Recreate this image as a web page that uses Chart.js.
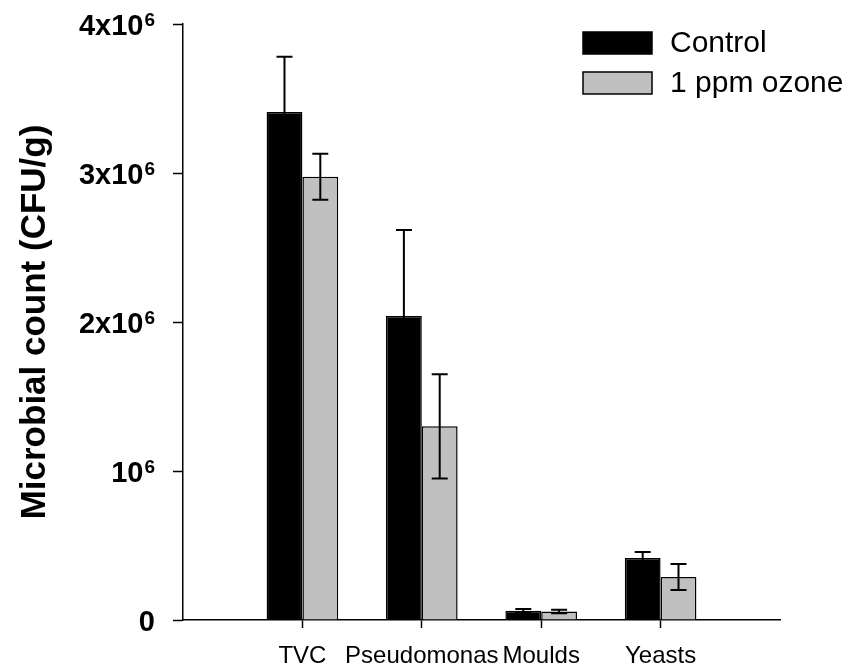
<!DOCTYPE html>
<html>
<head>
<meta charset="utf-8">
<script src="https://cdn.jsdelivr.net/npm/chart.js@4/dist/chart.umd.min.js"></script>
<style>
  html, body { margin: 0; padding: 0; background: #ffffff; }
  #wrap { width: 859px; height: 672px; }
</style>
</head>
<body>
<div id="wrap"><canvas id="c" width="859" height="672"></canvas></div>
<script>
// ---- data ----
const categories = ['TVC', 'Pseudomonas', 'Moulds', 'Yeasts'];
const seriesNames = ['Control', '1 ppm ozone'];
const controlValues = [3.41e6, 2.04e6, 0.062e6, 0.416e6];
const controlErrors = [0.37e6, 0.577e6, 0.012e6, 0.04e6];
const ozoneValues = [2.975e6, 1.30e6, 0.057e6, 0.289e6];
const ozoneErrors = [0.155e6, 0.35e6, 0.012e6, 0.087e6];
const yTickValues = [0, 1e6, 2e6, 3e6, 4e6];
// tick label = base text + superscript exponent
const yTickBases = ['0', '10', '2x10', '3x10', '4x10'];
const yTickExps = ['', '6', '6', '6', '6'];
const yTitle = 'Microbial count (CFU/g)';

const FONT = "'Liberation Sans', Arial, Helvetica, sans-serif";
const BLACK = '#000000';
const GREY = '#c0c0c0';

// pad categories with an empty slot on each side (axis runs one step beyond)
const pad = arr => [null, ...arr, null];
const labels = ['', ...categories, ''];
const errorsByDataset = [pad(controlErrors), pad(ozoneErrors)];

const errorBarPlugin = {
  id: 'errorBars',
  afterDatasetsDraw(chart) {
    const ctx = chart.ctx;
    const y = chart.scales.y;
    ctx.save();
    ctx.strokeStyle = BLACK;
    ctx.lineWidth = 2;
    chart.data.datasets.forEach((ds, di) => {
      const meta = chart.getDatasetMeta(di);
      meta.data.forEach((bar, i) => {
        const v = ds.data[i];
        const e = errorsByDataset[di][i];
        if (v == null || e == null) return;
        const x = bar.x;
        const yTop = y.getPixelForValue(v + e);
        const yBot = y.getPixelForValue(v - e);
        const cap = 8;
        ctx.beginPath();
        ctx.moveTo(x, yTop); ctx.lineTo(x, yBot);
        ctx.moveTo(x - cap, yTop); ctx.lineTo(x + cap, yTop);
        ctx.moveTo(x - cap, yBot); ctx.lineTo(x + cap, yBot);
        ctx.stroke();
      });
    });
    ctx.restore();
  }
};

// y tick labels with a real raised exponent
const yLabelPlugin = {
  id: 'yLabels',
  afterDraw(chart) {
    const ctx = chart.ctx;
    const y = chart.scales.y;
    const right = y.right - 10 - 18;
    ctx.save();
    ctx.fillStyle = BLACK;
    ctx.textAlign = 'right';
    ctx.textBaseline = 'alphabetic';
    yTickValues.forEach((v, i) => {
      const py = y.getPixelForValue(v);
      const base = yTickBases[i];
      const exp = yTickExps[i];
      const baseline = py + 11;
      let xEnd = right;
      if (exp) {
        ctx.font = 'bold 19px ' + FONT;
        ctx.fillText(exp, xEnd, baseline - 9);
        xEnd -= ctx.measureText(exp).width + 1;
      }
      ctx.font = 'bold 29px ' + FONT;
      ctx.fillText(base, xEnd, baseline);
    });
    ctx.restore();
  }
};

const legendPlugin = {
  id: 'boxLegend',
  afterDraw(chart) {
    const ctx = chart.ctx;
    ctx.save();
    const items = chart.data.datasets.map(ds => ({ text: ds.label, fill: ds.backgroundColor }));
    const x0 = 583, boxW = 69, boxH = 22, y0 = 32, gap = 40;
    ctx.font = '30px ' + FONT;
    ctx.textBaseline = 'middle';
    ctx.textAlign = 'left';
    items.forEach((it, k) => {
      const yy = y0 + k * gap;
      ctx.fillStyle = it.fill;
      ctx.fillRect(x0, yy, boxW, boxH);
      ctx.lineWidth = 1.5;
      ctx.strokeStyle = BLACK;
      ctx.strokeRect(x0, yy, boxW, boxH);
      ctx.fillStyle = BLACK;
      ctx.fillText(it.text, 670, yy + boxH / 2 + 1);
    });
    ctx.restore();
  }
};

const lastIdx = labels.length - 1;

new Chart(document.getElementById('c'), {
  type: 'bar',
  data: {
    labels: labels,
    datasets: [
      { label: seriesNames[0], data: pad(controlValues), backgroundColor: BLACK,
        borderColor: BLACK, borderWidth: 1.5, borderSkipped: 'start' },
      { label: seriesNames[1], data: pad(ozoneValues), backgroundColor: GREY,
        borderColor: BLACK, borderWidth: 1.5, borderSkipped: 'start' }
    ]
  },
  options: {
    responsive: false,
    animation: false,
    events: [],
    layout: { padding: { left: 0, top: 24, right: 79, bottom: 0 } },
    datasets: { bar: { categoryPercentage: 0.6, barPercentage: 1.0 } },
    plugins: {
      legend: { display: false },
      tooltip: { enabled: false }
    },
    scales: {
      x: {
        type: 'category',
        offset: false,
        grid: {
          offset: false,
          drawOnChartArea: false,
          drawTicks: true,
          tickLength: 8,
          tickWidth: 1.5,
          color: ctx => (ctx.index === 0 || ctx.index === lastIdx) ? 'rgba(0,0,0,0)' : BLACK
        },
        border: { display: true, color: BLACK, width: 1.5 },
        ticks: {
          autoSkip: false, maxRotation: 0, minRotation: 0,
          color: BLACK, padding: 14,
          font: { family: FONT, size: 24, weight: 'normal' }
        },
        afterFit: s => { s.height = 52; s.paddingLeft = 0; s.paddingRight = 0; }
      },
      y: {
        min: 0, max: 4e6,
        afterBuildTicks: s => { s.ticks = yTickValues.map(v => ({ value: v })); },
        grid: {
          drawOnChartArea: false,
          drawTicks: true,
          tickLength: 10,
          tickWidth: 1.5,
          color: BLACK
        },
        border: { display: true, color: BLACK, width: 1.5 },
        ticks: { display: false },
        title: {
          display: true, text: yTitle, color: BLACK,
          font: { family: FONT, size: 35, weight: 'bold' },
          padding: { top: 14, bottom: 0 }
        },
        afterFit: s => { s.width = 183; s.paddingTop = 0; s.paddingBottom = 0; }
      }
    }
  },
  plugins: [errorBarPlugin, yLabelPlugin, legendPlugin]
});
</script>
</body>
</html>
